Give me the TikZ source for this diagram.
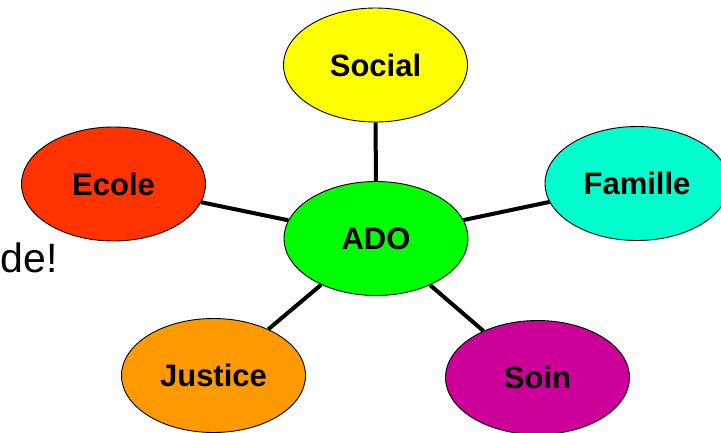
\documentclass[tikz,border=0pt]{standalone}
\usepackage{fontspec}
\setmainfont{Liberation Sans}
\usetikzlibrary{shapes.geometric}
\definecolor{cSocial}{HTML}{FFFF00}
\definecolor{cEcole}{HTML}{FF3300}
\definecolor{cFamille}{HTML}{00FFCC}
\definecolor{cAdo}{HTML}{00FF00}
\definecolor{cJustice}{HTML}{FF9900}
\definecolor{cSoin}{HTML}{CC0099}
\tikzset{
  bubble/.style={ellipse, draw=black, line width=0.9pt, minimum width=184pt, minimum height=114pt, inner sep=0pt,
    font=\fontsize{31}{31}\selectfont\bfseries},
  link/.style={draw=black, line width=4pt}
}
\begin{document}
\begin{tikzpicture}[x=1pt,y=-1pt]
\useasboundingbox (0,0) rectangle (721,432);
\fill[white] (0,0) rectangle (721,432);
\node[anchor=base east, inner sep=0pt, font=\fontsize{41}{41}\selectfont] (txt) at (58,272) {de!};
\node[bubble, fill=cAdo] (ado) at (376,238.5) {ADO};
\node[bubble, fill=cSocial] (social) at (375.5,65) {Social};
\node[bubble, fill=cEcole] (ecole) at (113.5,184) {Ecole};
\node[bubble, fill=cFamille] (famille) at (637,183.5) {Famille};
\node[bubble, fill=cJustice] (justice) at (213.5,375.5) {Justice};
\node[bubble, fill=cSoin] (soin) at (537.5,377.5) {Soin};
\draw[link] (ado) -- (social);
\draw[link] (ado) -- (ecole);
\draw[link] (ado) -- (famille);
\draw[link] (ado) -- (justice);
\draw[link] (ado) -- (soin);
\end{tikzpicture}
\end{document}
